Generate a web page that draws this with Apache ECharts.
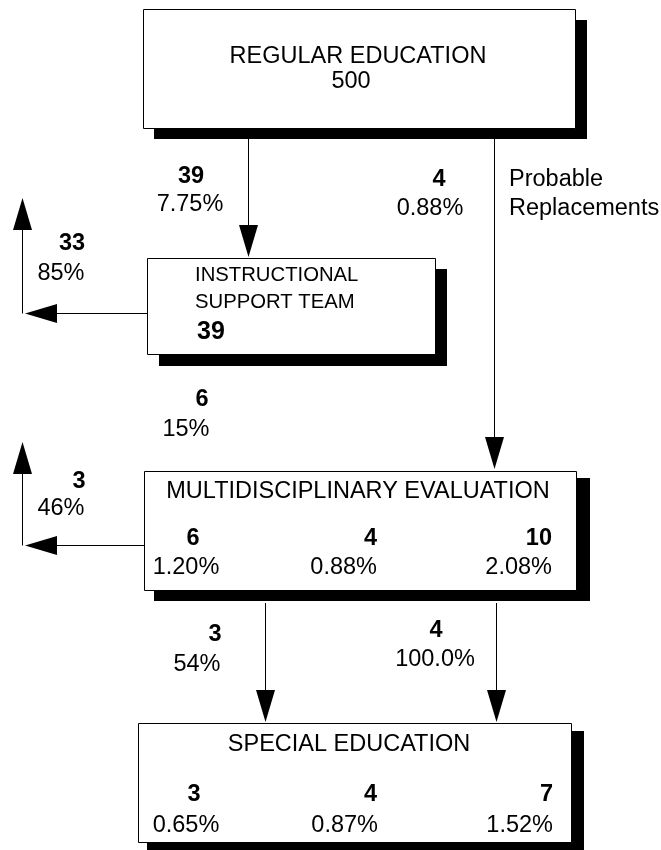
<!DOCTYPE html>
<html>
<head>
<meta charset="utf-8">
<script src="https://cdn.jsdelivr.net/npm/echarts@6/dist/echarts.min.js"></script>
<style>
  html, body { margin: 0; padding: 0; background: #fff; }
  #chart { width: 661px; height: 850px; }
</style>
</head>
<body>
<div id="chart"></div>
<script>
// box titles
const boxTitles = ['REGULAR EDUCATION', 'INSTRUCTIONAL', 'SUPPORT TEAM', 'MULTIDISCIPLINARY EVALUATION', 'SPECIAL EDUCATION'];
const regularTotal = 500;
const istTotal = 39;
// flows between boxes: count and share
const flowCounts = [39, 4, 33, 6, 3, 3, 4];
const flowShares = ['7.75%', '0.88%', '85%', '15%', '46%', '54%', '100.0%'];
const flowNote = ['Probable', 'Replacements'];
// three columns inside the evaluation / special education boxes
const evalCounts = [6, 4, 10];
const evalShares = ['1.20%', '0.88%', '2.08%'];
const specialCounts = [3, 4, 7];
const specialShares = ['0.65%', '0.87%', '1.52%'];

var myChart = echarts.init(document.getElementById('chart'));
const FONT = '"Liberation Sans", Arial, sans-serif';
const HEAD_LEN = 32, HEAD_HALF = 9.5;
const TEXT_DY = 2; // cap-height centre sits a bit below the em middle

function box (x, y, w, h, sx, sy, sw, sh) {
  return [
    { type: 'rect', shape: { x: sx, y: sy, width: sw, height: sh }, style: { fill: '#000' } },
    { type: 'rect', shape: { x: x + 0.5, y: y + 0.5, width: w, height: h }, style: { fill: '#fff', stroke: '#000', lineWidth: 1 } }
  ];
}
function txt (s, x, y, align, bold, size) {
  return {
    type: 'text', x: x, y: y + TEXT_DY,
    style: {
      text: String(s), fill: '#000', font: (bold ? 'bold ' : '') + (size || 23.5) + 'px ' + FONT,
      textAlign: align || 'center', textVerticalAlign: 'middle'
    }
  };
}
function line (pts) {
  return { type: 'polyline', shape: { points: pts }, style: { stroke: '#000', lineWidth: 1, fill: null } };
}
function head (pts) {
  return { type: 'polygon', shape: { points: pts }, style: { fill: '#000' } };
}
// vertical arrow pointing down
function arrowDown (x, y0, tip) {
  return [
    line([[x + 0.5, y0], [x + 0.5, tip - HEAD_LEN]]),
    head([[x + 0.5 - HEAD_HALF, tip - HEAD_LEN], [x + 0.5 + HEAD_HALF, tip - HEAD_LEN], [x + 0.5, tip]])
  ];
}
// arrow left out of a box, then an arrow up along the margin
function arrowLeftUp (x0, y, xTip, upX, upTip) {
  return [
    line([[x0, y + 0.5], [xTip + HEAD_LEN, y + 0.5]]),
    head([[xTip + HEAD_LEN, y + 0.5 - HEAD_HALF], [xTip + HEAD_LEN, y + 0.5 + HEAD_HALF], [xTip, y + 0.5]]),
    line([[upX + 0.5, y + 0.5], [upX + 0.5, upTip + HEAD_LEN]]),
    head([[upX + 0.5 - HEAD_HALF, upTip + HEAD_LEN], [upX + 0.5 + HEAD_HALF, upTip + HEAD_LEN], [upX + 0.5, upTip]])
  ];
}

const els = [].concat(
  // regular education
  box(143, 9, 432, 119, 154, 20, 433, 119),
  txt(boxTitles[0], 358, 55),
  txt(regularTotal, 351, 80),
  // to instructional support team
  arrowDown(248, 129, 257),
  txt(flowCounts[0], 191, 175, 'center', true),
  txt(flowShares[0], 190, 203),
  // probable replacements straight to evaluation
  arrowDown(494, 139, 469),
  txt(flowCounts[1], 439, 178, 'center', true),
  txt(flowShares[1], 430, 207),
  txt(flowNote[0], 509, 178, 'left'),
  txt(flowNote[1], 509, 207, 'left'),
  // instructional support team
  box(147, 258, 288, 96, 159, 269, 288, 97),
  txt(boxTitles[1], 195, 273, 'left', false, 20.3),
  txt(boxTitles[2], 195, 300, 'left', false, 20.3),
  txt(istTotal, 197, 330, 'left', true, 25),
  arrowLeftUp(147, 313, 25, 22, 198),
  txt(flowCounts[2], 72, 242, 'center', true),
  txt(flowShares[2], 61, 272),
  txt(flowCounts[3], 202, 398, 'center', true),
  txt(flowShares[3], 186, 428),
  // multidisciplinary evaluation
  box(144, 471, 432, 119, 154, 478, 436, 123),
  txt(boxTitles[3], 358, 490),
  txt(evalCounts[0], 193, 537, 'center', true),
  txt(evalShares[0], 186, 566),
  txt(evalCounts[1], 377, 537, 'right', true),
  txt(evalShares[1], 377, 566, 'right'),
  txt(evalCounts[2], 552, 537, 'right', true),
  txt(evalShares[2], 552, 566, 'right'),
  arrowLeftUp(144, 545, 25, 22, 442),
  txt(flowCounts[4], 79, 480, 'center', true),
  txt(flowShares[4], 61, 507),
  // to special education
  arrowDown(265, 603, 722),
  arrowDown(496, 603, 722),
  txt(flowCounts[5], 215, 633, 'center', true),
  txt(flowShares[5], 197, 663),
  txt(flowCounts[6], 436, 629, 'center', true),
  txt(flowShares[6], 435, 658),
  // special education
  box(138, 723, 433, 119, 147, 731, 437, 119),
  txt(boxTitles[4], 349, 743),
  txt(specialCounts[0], 194, 793, 'center', true),
  txt(specialShares[0], 186, 824),
  txt(specialCounts[1], 377, 793, 'right', true),
  txt(specialShares[1], 378, 824, 'right'),
  txt(specialCounts[2], 553, 793, 'right', true),
  txt(specialShares[2], 553, 824, 'right')
);

myChart.setOption({
  backgroundColor: '#fff',
  animation: false,
  graphic: { elements: els }
});
</script>
</body>
</html>
